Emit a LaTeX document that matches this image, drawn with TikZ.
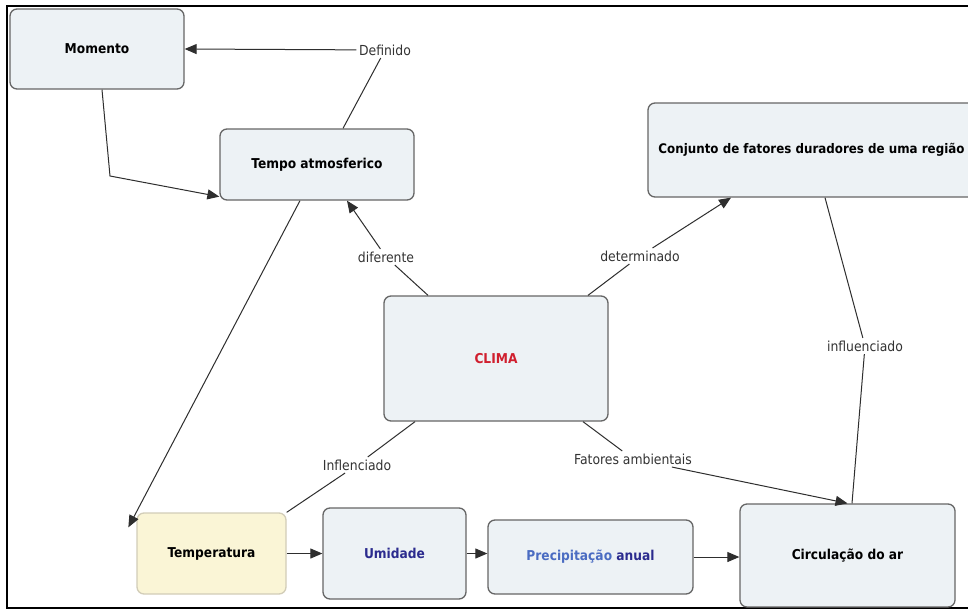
\documentclass[tikz,border=0pt]{standalone}
\usepackage{fontspec}
\setmainfont{DejaVu Sans Condensed}
\usetikzlibrary{arrows.meta,calc}
\definecolor{boxfill}{HTML}{EDF2F5}
\definecolor{boxline}{HTML}{666666}
\definecolor{tempfill}{HTML}{FAF5D6}
\definecolor{templine}{HTML}{D2CDB8}
\definecolor{edgecol}{HTML}{2E2E2E}
\definecolor{labtext}{HTML}{333333}
\definecolor{climared}{HTML}{D01F2E}
\definecolor{darkblue}{HTML}{2B2B8E}
\definecolor{lightblue}{HTML}{4A6CC2}
\begin{document}
\begin{tikzpicture}[x=1pt,y=-1pt,
  cbox/.style={draw=boxline, fill=boxfill, rounded corners=7pt, line width=1.3pt,
    font=\bfseries\fontsize{13.6}{16}\selectfont, text=black, inner sep=0pt},
  ybox/.style={cbox, draw=templine, fill=tempfill},
  lab/.style={font=\fontsize{13.8}{16}\selectfont, text=labtext, inner sep=2.5pt},
  con/.style={draw=edgecol, line width=1pt},
  arr/.style={con, -{Triangle[length=12pt,width=10pt]}}]
\useasboundingbox (0,0) rectangle (968,610);
\clip (0,0) rectangle (968,610);
\fill[white] (0,0) rectangle (968,610);

% frame
\draw[line width=1.6pt, black] (968,6) -- (7,6) -- (7,608) -- (968,608);

% concept boxes
\node[cbox, minimum width=174pt, minimum height=80pt] (momento) at (97,49) {Momento};
\node[cbox, minimum width=194pt, minimum height=71pt] (tempo) at (317,164.5) {Tempo atmosferico};
\node[cbox, minimum width=327pt, minimum height=94pt, font=\bfseries\fontsize{13.2}{16}\selectfont] (conj) at (811.5,150) {Conjunto de fatores duradores de uma região};
\node[cbox, minimum width=224pt, minimum height=125pt, text=climared] (clima) at (496,358.5) {CLIMA};
\node[ybox, minimum width=149pt, minimum height=81pt] (temp) at (211.5,553.5) {Temperatura};
\node[cbox, minimum width=143pt, minimum height=91pt, text=darkblue] (umid) at (394.5,553.5) {Umidade};
\node[cbox, minimum width=205pt, minimum height=74pt] (prec) at (590.5,557) {\textcolor{lightblue}{Precipitação} \textcolor{darkblue}{anual}};
\node[cbox, minimum width=215pt, minimum height=103pt] (circ) at (847.5,555.5) {Circulação do ar};

% linking phrases
\node[lab] (ldef) at (385,50) {Definido};
\node[lab] (ldif) at (386,257) {diferente};
\node[lab] (ldet) at (640,256) {determinado};
\node[lab] (linf) at (357,465) {Inflenciado};
\node[lab] (lfat) at (633,459) {Fatores ambientais};
\node[lab] (linfl) at (865,346) {influenciado};

\coordinate (bend) at (110,176);

% connectors
\draw[con] ([xshift=26pt]tempo.north) -- (ldef);
\draw[arr] (ldef) -- (momento.east);
\draw[arr] ([xshift=5pt]momento.south) -- (bend) -- ([yshift=4pt]tempo.south west);

\draw[con] ([xshift=-68pt]clima.north) -- (ldif);
\draw[arr] (ldif) -- ([xshift=30pt]tempo.south);

\draw[con] ([xshift=92pt]clima.north) -- (ldet);
\draw[arr] (ldet) -- ([xshift=-80.5pt]conj.south);

\draw[con] ([xshift=-81pt]clima.south) -- (linf);
\draw[con] (linf) -- (temp.north east);

\draw[con] ([xshift=87pt]clima.south) -- (lfat);
\draw[arr] (lfat) -- (circ.north);

\draw[con] ([xshift=13.5pt]conj.south) -- (linfl);
\draw[con] (linfl) -- ([xshift=4.5pt]circ.north);

\draw[arr] ([xshift=-17pt]tempo.south) -- ([xshift=-8pt,yshift=-15pt]temp.north west);

\draw[arr] (temp.east) -- (umid.west);
\draw[arr] (umid.east) -- (umid.east -| prec.west);
\draw[arr] (prec.east) -- (prec.east -| circ.west);
\end{tikzpicture}
\end{document}
